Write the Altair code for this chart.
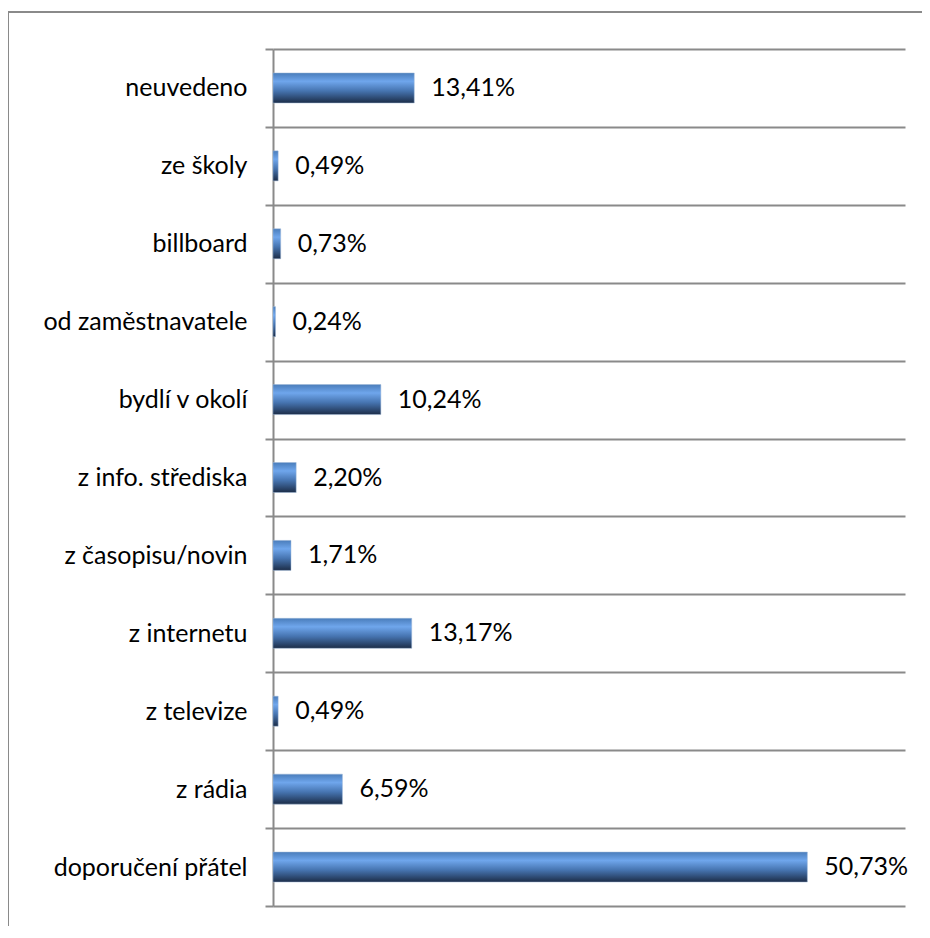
import altair as alt
import pandas as pd

categories = ["neuvedeno", "ze školy", "billboard", "od zaměstnavatele", "bydlí v okolí",
              "z info. střediska", "z časopisu/novin", "z internetu", "z televize",
              "z rádia", "doporučení přátel"]
values = [13.41, 0.49, 0.73, 0.24, 10.24, 2.20, 1.71, 13.17, 0.49, 6.59, 50.73]
labels = [f"{v:.2f}".replace(".", ",") + "%" for v in values]

df = pd.DataFrame({"cat": categories, "val": values, "lab": labels})

FONT = "Lato"
FS = 25
W, H = 632, 857

y_enc = alt.Y("cat:N", sort=categories, title=None,
              scale=alt.Scale(paddingInner=0, paddingOuter=0),
              axis=alt.Axis(tickBand="extent", grid=True, gridColor="#8a8a8a", gridWidth=2,
                            domainColor="#8a8a8a", domainWidth=2, tickColor="#8a8a8a",
                            tickWidth=2, tickSize=8, labelPadding=18, labelFont=FONT,
                            labelFontSize=FS, labelColor="#000000", labelLimit=400))
x_enc = alt.X("val:Q", scale=alt.Scale(domain=[0, 60]), axis=None)

grad = alt.Gradient(gradient="linear",
                    stops=[alt.GradientStop(color="#4a7dbb", offset=0),
                           alt.GradientStop(color="#6fa6ec", offset=0.28),
                           alt.GradientStop(color="#4674b0", offset=0.6),
                           alt.GradientStop(color="#1c2d48", offset=1)],
                    x1=0, x2=0, y1=0, y2=1)

bars = alt.Chart(df).mark_bar(color=grad, stroke="#9fb8d8", strokeWidth=0.5, height=30).encode(
    y=y_enc, x=x_enc)
text = alt.Chart(df).mark_text(align="left", baseline="middle", dx=17, font=FONT,
                               fontSize=FS, color="#000000").encode(
    y=alt.Y("cat:N", sort=categories), x="val:Q", text="lab:N")

border = alt.Chart(alt.Data(values=[{}])).mark_rect(
    fill=None, stroke="#8a8a8a", strokeWidth=2).encode(
    x=alt.value(-265), x2=alt.value(700), y=alt.value(-37), y2=alt.value(950))

chart = alt.layer(border, bars, text).properties(
    width=W, height=H,
    padding={"left": 265, "top": 41, "right": 17, "bottom": 20},
    autosize=alt.AutoSizeParams(type="none"),
).configure_view(stroke=None)

chart.save("out.html", embed_options={"renderer": "svg", "actions": False})
